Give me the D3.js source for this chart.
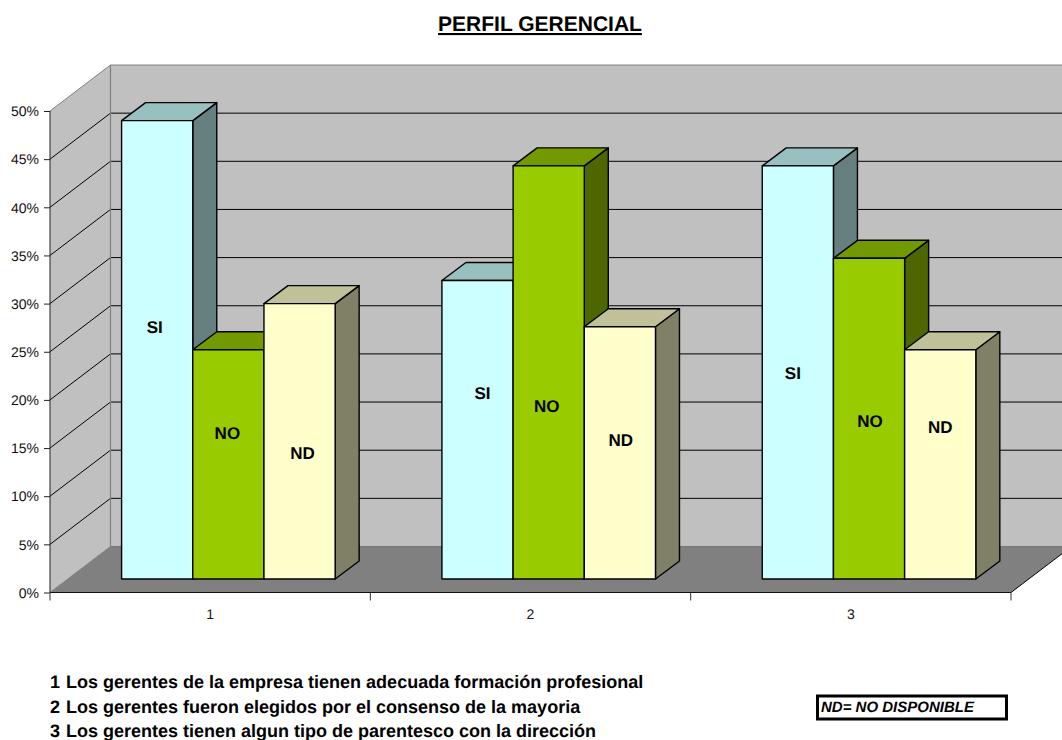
<!DOCTYPE html>
<html><head><meta charset="utf-8">
<style>html,body{margin:0;padding:0;background:#fff;overflow:hidden}svg{display:block}text{font-family:"Liberation Sans",Arial,sans-serif;text-rendering:geometricPrecision}</style>
<script src="https://cdnjs.cloudflare.com/ajax/libs/d3/7.8.5/d3.min.js"></script>
</head><body><script>
const categories = ["1","2","3"];
const seriesNames = ["SI","NO","ND"];
const siValues = [47.6,31.0,42.9];
const noValues = [23.8,42.9,33.3];
const ndValues = [28.6,26.2,23.8];
const tickValues = [0,5,10,15,20,25,30,35,40,45,50];
const titleText = "PERFIL GERENCIAL";
const noteNumbers = ["1","2","3"];
const notes = ["Los gerentes de la empresa tienen adecuada formación profesional",
 "Los gerentes fueron elegidos por el consenso de la mayoria",
 "Los gerentes tienen algun tipo de parentesco con la dirección"];
const boxText = "ND= NO DISPONIBLE";

const series = [siValues,noValues,ndValues];
const fills = [{front:"#ccffff",top:"#99c0c0",side:"#668080"},
               {front:"#99cc00",top:"#739900",side:"#4d6600"},
               {front:"#ffffcc",top:"#c0c099",side:"#808066"}];
// label nudges relative to bar centre, px [series][category]
const nudgeX=[[-2.5,5,-5],[-1,-2,1],[3,1,0]];
const nudgeY=[[-22.5,-37,0],[-32,33,2],[12,-13,-38]];

const W=1062,H=740;
const svg=d3.select("body").append("svg").attr("width",W).attr("height",H);
const x0=50,x1=1011,yB=592.5,yT=111, wx=60.5, wy=46;
const x=d3.scaleBand().domain(categories).range([x0,x1]);
const y=d3.scaleLinear().domain([0,50]).range([yB,yT]);
const w=x.bandwidth()/(3+1.5);
const dxBar=24, dyBar=18, ox=18.2, oy=13.5;
const pts=a=>a.map(p=>p.join(",")).join(" ");

// walls
const g=svg.append("g");
g.append("polygon").attr("points",pts([[x0+wx,y(50)-wy],[x1+wx,y(50)-wy],[x1+wx,yB-wy],[x0+wx,yB-wy]])).attr("fill","#c0c0c0");
g.append("polygon").attr("points",pts([[x0,yT],[x0+wx,yT-wy],[x0+wx,yB-wy],[x0,yB]])).attr("fill","#c0c0c0");
g.append("polygon").attr("points",pts([[x0,yB],[x0+wx,yB-wy],[x1+wx,yB-wy],[x1,yB]])).attr("fill","#808080");
// gridlines
g.selectAll(".gb").data(tickValues.slice(1,-1)).join("line").attr("x1",x0+wx).attr("x2",x1+wx)
 .attr("y1",d=>y(d)-wy).attr("y2",d=>y(d)-wy).attr("stroke","#000").attr("stroke-width",1);
g.selectAll(".gs").data(tickValues.slice(1,-1)).join("line").attr("x1",x0).attr("x2",x0+wx)
 .attr("y1",d=>y(d)).attr("y2",d=>y(d)-wy).attr("stroke","#000").attr("stroke-width",1);
// wall borders
g.append("polyline").attr("points",pts([[x0,yT],[x0+wx,yT-wy],[x1+wx,yT-wy]])).attr("fill","none").attr("stroke","#808080").attr("stroke-width",1);
g.append("line").attr("x1",x0+wx).attr("x2",x0+wx).attr("y1",yT-wy).attr("y2",yB-wy).attr("stroke","#808080").attr("stroke-width",1.2);
g.append("line").attr("x1",x0+wx).attr("x2",x1+wx).attr("y1",yB-wy).attr("y2",yB-wy).attr("stroke","#777").attr("stroke-width",1);
g.append("line").attr("x1",x0).attr("x2",x0+wx).attr("y1",yB).attr("y2",yB-wy).attr("stroke","#808080").attr("stroke-width",1);
g.append("line").attr("x1",x1).attr("x2",x1+wx).attr("y1",yB).attr("y2",yB-wy).attr("stroke","#000").attr("stroke-width",1);

// axes
const ay=svg.append("g").attr("transform",`translate(${x0},0)`)
 .call(d3.axisLeft(y).tickValues(tickValues).tickSize(6).tickFormat(d=>d+"%"));
ay.select(".domain").attr("stroke","#222").attr("stroke-width",1).attr("d",`M0,${yT}V${yB}`);
ay.selectAll("text").attr("font-size",14).attr("fill","#111").attr("font-family",'"Liberation Sans"').attr("x",-11).attr("dy","0.34em");
ay.selectAll("line").attr("stroke","#222");
const ax=svg.append("g").attr("transform",`translate(0,${yB})`)
 .call(d3.axisBottom(x).tickSize(0).tickPadding(17));
ax.select(".domain").attr("stroke","#111").attr("stroke-width",1).attr("d",`M${x0},0H${x1}`);
ax.selectAll("text").attr("font-size",14).attr("fill","#111").attr("font-family",'"Liberation Sans"');
ax.selectAll(".edge").data(categories.map(c=>x(c)).concat([x1])).join("line").attr("class","edge")
 .attr("x1",d=>d).attr("x2",d=>d).attr("y1",0).attr("y2",8).attr("stroke","#333");

// bars
const base=y(0)-oy;
const bars=svg.append("g").attr("stroke","#000").attr("stroke-width",1.4).attr("stroke-linejoin","round");
categories.forEach((c,ci)=>{
  series.forEach((vals,si)=>{
    const L=x(c)+x.bandwidth()/2-1.5*w+si*w+ox, R=L+w, T=y(vals[ci])-oy;
    const f=fills[si];
    bars.append("polygon").attr("points",pts([[R,T],[R+dxBar,T-dyBar],[R+dxBar,base-dyBar],[R,base]])).attr("fill",f.side);
    bars.append("polygon").attr("points",pts([[L,T],[L+dxBar,T-dyBar],[R+dxBar,T-dyBar],[R,T]])).attr("fill",f.top);
    bars.append("rect").attr("x",L).attr("y",T).attr("width",w).attr("height",base-T).attr("fill",f.front);
  });
});
// data labels
const labels=svg.append("g").attr("font-size",17).attr("font-weight","bold").attr("text-anchor","middle").attr("fill","#000");
categories.forEach((c,ci)=>{
  series.forEach((vals,si)=>{
    const L=x(c)+x.bandwidth()/2-1.5*w+si*w+ox, T=y(vals[ci])-oy;
    labels.append("text").attr("x",L+w/2+nudgeX[si][ci]).attr("y",(T+base)/2+nudgeY[si][ci]).attr("dy","0.36em").text(seriesNames[si]);
  });
});

// title
svg.append("text").attr("x",540).attr("y",31).attr("text-anchor","middle").attr("font-size",21).attr("font-weight","bold")
 .attr("text-decoration","underline").text(titleText);
// notes
const rowY=d3.scalePoint().domain(noteNumbers).range([688,737]);
const nt=svg.append("g").attr("font-size",18).attr("font-weight","bold").attr("fill","#000");
noteNumbers.forEach((n,i)=>{
  nt.append("text").attr("x",50).attr("y",rowY(n)).text(n);
  nt.append("text").attr("x",66).attr("y",rowY(n)).text(notes[i]);
});
// box
svg.append("rect").attr("x",817.5).attr("y",696).attr("width",189).attr("height",23).attr("fill","#fff").attr("stroke","#000").attr("stroke-width",3);
svg.append("text").attr("x",821).attr("y",712).attr("font-size",15).attr("font-weight","bold").attr("font-style","italic").text(boxText);
</script></body></html>
